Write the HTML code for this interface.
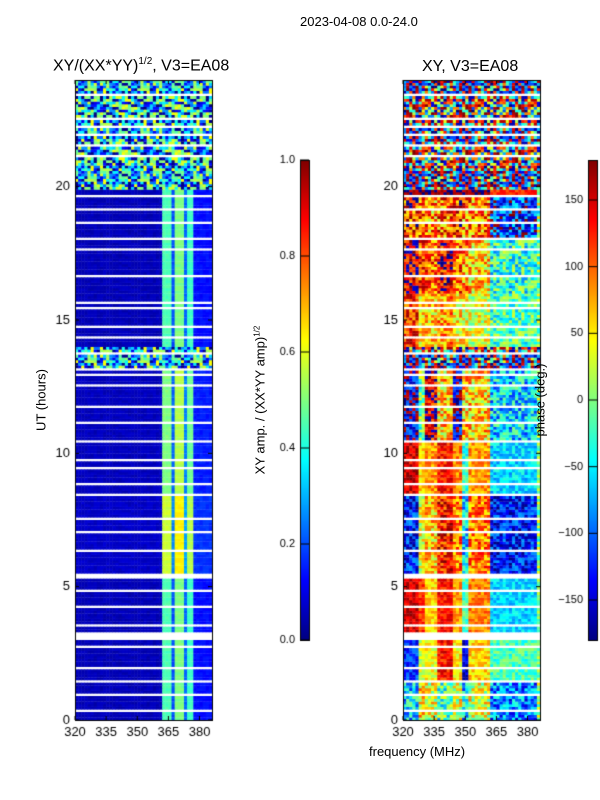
<!DOCTYPE html>
<html><head><meta charset="utf-8">
<style>
body{margin:0;background:#fff;width:600px;height:800px;position:relative;overflow:hidden;font-family:"Liberation Sans","DejaVu Sans",sans-serif;color:#000}
.t{position:absolute;font-size:13px;white-space:nowrap}
canvas{position:absolute}
</style></head><body>
<div class="t" style="left:300px;top:14px">2023-04-08 0.0-24.0</div>
<div class="t" style="left:53px;top:56px;font-size:16px">XY/(XX*YY)<sup style="font-size:10px">1/2</sup>, V3=EA08</div>
<div class="t" style="left:422px;top:58px;font-size:16px">XY, V3=EA08</div>
<canvas id="c" width="600" height="800" style="left:0;top:0"></canvas>
<div class="t" style="left:41px;top:400px;transform:translate(-50%,-50%) rotate(-90deg)">UT (hours)</div>
<div class="t" style="left:260px;top:400px;transform:translate(-50%,-50%) rotate(-90deg)">XY amp. / (XX*YY amp)<sup style="font-size:8px">1/2</sup></div>
<div class="t" style="left:540px;top:400px;transform:translate(-50%,-50%) rotate(-90deg)">phase (deg.)</div>
<div class="t" style="left:369px;top:744px">frequency (MHz)</div>
<script>
const hourTicks=[0,5,10,15,20];
const freqTicks=[320,335,350,365,380];
const ampTicks=[0.0,0.2,0.4,0.6,0.8,1.0];
const phaseTicks=[-150,-100,-50,0,50,100,150];
const flagged=[[0.35,0.42],[0.95,1.02],[1.45,1.55],[1.95,2.02],[2.75,2.82],[2.98,3.3],[3.5,3.57],[4.25,4.32],[4.85,4.92],[5.33,5.55],[6.35,6.42],[7.05,7.12],[7.55,7.62],[8.45,8.52],[8.85,8.92],[9.45,9.52],[9.75,9.82],[10.45,10.52],[11.15,11.22],[11.75,11.82],[12.55,12.62],[12.95,13.02],[13.15,13.22],[13.75,13.82],[14.35,14.42],[14.75,14.82],[15.45,15.52],[15.65,15.72],[16.65,16.72],[17.65,17.72],[18.05,18.12],[18.65,18.72],[19.15,19.22],[19.65,19.72],[21.15,21.22],[21.55,21.62],[21.95,22.02],[22.25,22.32],[22.55,22.62],[23.45,23.52]];
const noisySegments=[[13.25,14.0],[19.95,24]];
const noise=[0.6,-0.9,0.2,1.0,-0.4,0.8,-1.0,0.1,-0.6,0.9,-0.2,0.5,-0.8,0.3,-0.5,0.7,-0.1];
const ampZones=[320,362,366,368,372,374,377,386];
const ampZoneVals=[0.06,0.5,0.22,0.55,0.25,0.48,0.15];
const ampSegStarts=[0,5.5,8.5,14,20];
const ampSegGain=[0.9,1.15,1.0,0.9,1.0];
const phaseZones=[320,327,330,336,344,348,351,362,384,386];
const phaseSegStarts=[0,1.5,3.0,5.5,8.5,10.5,14,16,18,19.7];
const phaseSegVals=[
[-60,60,30,-20,30,-60,30,-90,0],
[-120,30,40,130,50,-150,60,-20,0],
[150,120,60,130,80,-20,90,-60,0],
[-130,40,60,130,90,-60,90,-130,0],
[150,60,80,130,90,-30,80,-60,0],
[-150,0,150,60,-150,60,60,-60,0],
[120,60,60,80,50,40,30,-20,0],
[150,120,100,140,100,80,60,-30,0],
[120,110,80,100,120,90,90,-120,0],
[170,170,170,170,170,170,170,120,0]];
const phaseNoiseAmp=[60,30,25,50,30,60,50,60,70,20];

const cv=document.getElementById('c');const ctx=cv.getContext('2d');
const P1={x0:75,x1:212},P2={x0:403,x1:540},Y0=720,Y1=80,F0=320,F1=386;
function yS(h){return Y0-(h/24)*(Y0-Y1);}
function xS(P,f){return P.x0+(f-F0)/(F1-F0)*(P.x1-P.x0);}
function cl(v){return Math.max(0,Math.min(1,v));}
function jet(v){v=cl(v);return 'rgb('+Math.round(255*cl(1.5-Math.abs(4*v-3)))+','+Math.round(255*cl(1.5-Math.abs(4*v-2)))+','+Math.round(255*cl(1.5-Math.abs(4*v-1)))+')';}
function inAny(h,arr){return arr.some(s=>h>=s[0]&&h<s[1]);}
function zoneIdx(z,f){for(let i=0;i<z.length-1;i++)if(f>=z[i]&&f<z[i+1])return i;return z.length-2;}
function segIdx(s,h){let k=0;for(let i=0;i<s.length;i++)if(h>=s[i])k=i;return k;}
function ix(r,c,s){return ((r*31+c*17+s*7)*(r*13+c*7+s+3)+c*c*5)%17;}
const dh=0.1,df=1.5;
for(let r=0;r<240;r++){
 const h=r*dh+dh/2;
 if(inAny(h,flagged))continue;
 const noisy=inAny(h,noisySegments);
 for(let c=0;c<44;c++){
  const f=F0+c*df+df/2;const n=noise[ix(r,c,1)];const n2=noise[ix(r,c,7)];
  let a,p;
  if(noisy){a=0.3+0.32*n;p=180*n2;}
  else{
   a=ampZoneVals[zoneIdx(ampZones,f)]*ampSegGain[segIdx(ampSegStarts,h)]+0.015*n;
   const k=segIdx(phaseSegStarts,h);
   p=phaseSegVals[k][zoneIdx(phaseZones,f)]+phaseNoiseAmp[k]*n2;
   if(p>180)p-=360;if(p<-180)p+=360;
  }
  const xa=xS(P1,F0+c*df),xb=xS(P1,F0+(c+1)*df);
  ctx.fillStyle=jet(a);ctx.fillRect(xa,yS(h+dh/2),xb-xa+0.5,yS(h-dh/2)-yS(h+dh/2)+0.3);
  const xc=xS(P2,F0+c*df),xd=xS(P2,F0+(c+1)*df);
  ctx.fillStyle=jet((p+180)/360);ctx.fillRect(xc,yS(h+dh/2),xd-xc+0.5,yS(h-dh/2)-yS(h+dh/2)+0.3);
 }
}
ctx.font='13px "Liberation Sans",sans-serif';ctx.fillStyle='#000';
[P1,P2].forEach(P=>{
 ctx.strokeStyle='#000';ctx.lineWidth=1;ctx.strokeRect(P.x0+0.5,Y1+0.5,P.x1-P.x0,Y0-Y1);
 ctx.textAlign='right';ctx.textBaseline='middle';
 hourTicks.forEach(t=>{const y=yS(t);ctx.beginPath();ctx.moveTo(P.x0,y);ctx.lineTo(P.x0+4,y);ctx.moveTo(P.x1,y);ctx.lineTo(P.x1-4,y);ctx.stroke();ctx.fillText(String(t),P.x0-5,y);});
 ctx.textAlign='center';ctx.textBaseline='top';
 freqTicks.forEach(t=>{const x=xS(P,t);ctx.beginPath();ctx.moveTo(x,Y0);ctx.lineTo(x,Y0-4);ctx.moveTo(x,Y1);ctx.lineTo(x,Y1+4);ctx.stroke();ctx.fillText(String(t),x,Y0+6);});
});
function cbar(x,lo,hi,ticks,fmt){
 for(let y=160;y<640;y++){ctx.fillStyle=jet((640-y)/480);ctx.fillRect(x,y,9,1);}
 ctx.strokeStyle='#000';ctx.strokeRect(x+0.5,160.5,9,480);
 ctx.font='11px "Liberation Sans",sans-serif';ctx.textAlign='right';ctx.textBaseline='middle';ctx.fillStyle='#000';
 ticks.forEach(t=>{const y=640-(t-lo)/(hi-lo)*480;ctx.beginPath();ctx.moveTo(x,y);ctx.lineTo(x+9,y);ctx.stroke();ctx.fillText(fmt(t),x-5,y);});
}
cbar(300,0,1,ampTicks,t=>t.toFixed(1));
cbar(588,-180,180,phaseTicks,t=>t<0?'\u2212'+(-t):String(t));
</script>
</body></html>
